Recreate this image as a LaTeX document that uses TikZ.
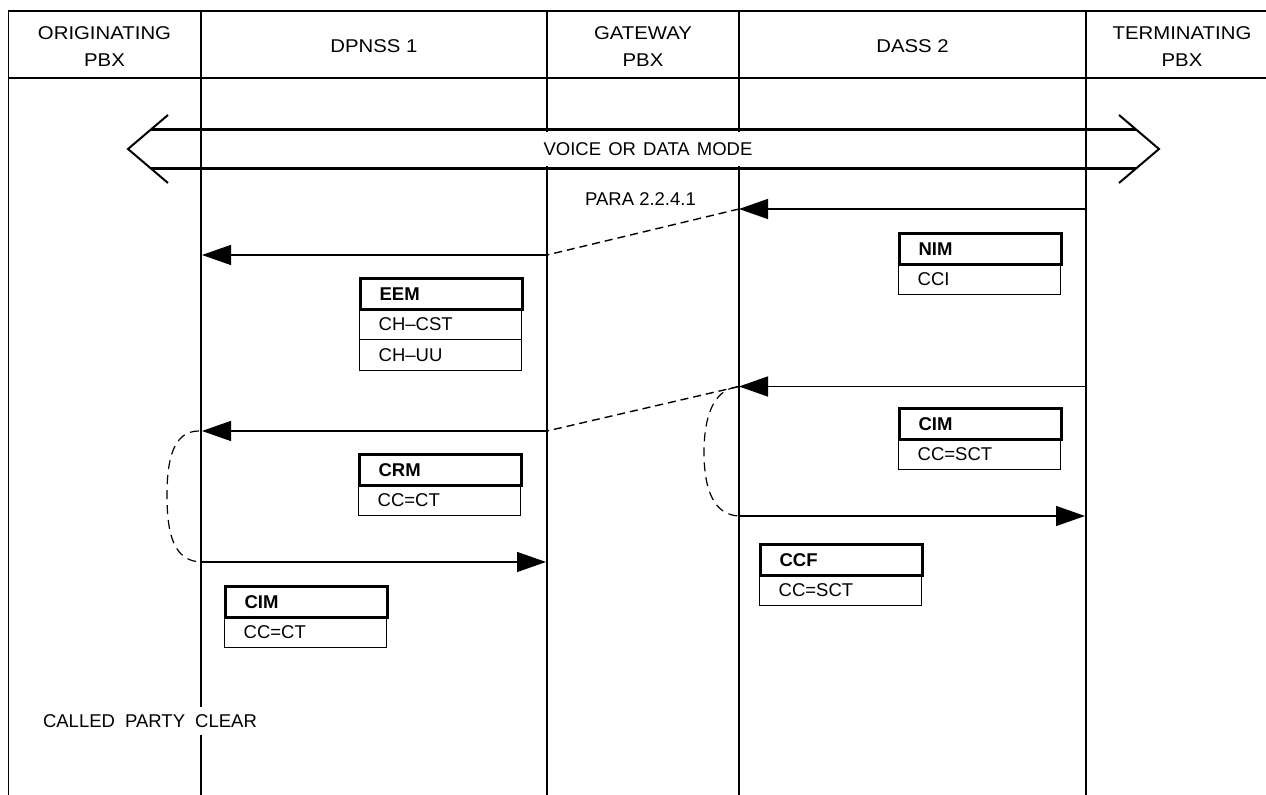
\documentclass[tikz,border=0pt]{standalone}
\usepackage{fontspec}
\setmainfont{Liberation Sans}
\usepackage{graphicx}
\usetikzlibrary{arrows.meta}
\begin{document}
\begin{tikzpicture}[x=0.5pt,y=-0.5pt,
  font=\fontsize{9.25}{13.85}\selectfont,
  frame/.style={line width=0.9pt},
  msg/.style={line width=0.7pt, -{Triangle[length=14.5pt,width=10pt]}},
  link/.style={line width=0.7pt, dash pattern=on 4pt off 2.5pt},
  loopline/.style={line width=0.6pt, dash pattern=on 4.5pt off 3pt},
  hdr/.style={align=center, inner sep=0pt},
  band/.style={line width=1.25pt},
  chev/.style={line width=1pt},
  rowbase/.style={anchor=north west, minimum width=81pt, minimum height=15.5pt,
    text width=62pt, inner xsep=9.5pt, inner ysep=0pt, align=left,
    text height=6.7pt, text depth=0pt},
  boxhead/.style={rowbase, draw, line width=1.6pt, font=\fontsize{9.25}{11}\selectfont\bfseries},
  boxrow/.style={rowbase, draw, line width=0.65pt},
  gaplabel/.style={fill=white, inner xsep=2pt, inner ysep=3.5pt}
]
\useasboundingbox (0,0) rectangle (1266,795);

% frame and lanes
\coordinate (tl) at (8.5,11);
\coordinate (tr) at (1266,11);
\coordinate (bl) at (8.5,795);
\coordinate (hl) at (8.5,78);
\coordinate (hr) at (1266,78);
\draw[frame] (bl) -- (tl) -- (tr);
\draw[frame] (hl) -- (hr);
\coordinate (l1t) at (201,11);  \coordinate (l1b) at (201,795);
\coordinate (l2t) at (547,11);  \coordinate (l2b) at (547,795);
\coordinate (l3t) at (739,11);  \coordinate (l3b) at (739,795);
\coordinate (l4t) at (1086,11); \coordinate (l4b) at (1086,795);
\draw[frame] (l1t) -- (l1b);
\draw[frame] (l2t) -- (l2b);
\draw[frame] (l3t) -- (l3b);
\draw[frame] (l4t) -- (l4b);

% headers
\node[hdr] (h1) at (104.5,46.5) {\scalebox{1.1}[1]{ORIGINATING}\\\scalebox{1.1}[1]{PBX}};
\node[hdr] (h2) at (374,46.5) {\scalebox{1.1}[1]{DPNSS 1}};
\node[hdr] (h3) at (643,46.5) {\scalebox{1.1}[1]{GATEWAY}\\\scalebox{1.1}[1]{PBX}};
\node[hdr] (h4) at (912.5,46.5) {\scalebox{1.1}[1]{DASS 2}};
\node[hdr] (h5) at (1182,46.5) {\scalebox{1.1}[1]{TERMINATING}\\\scalebox{1.1}[1]{PBX}};

% voice or data mode double arrow
\coordinate (vl) at (128,149);
\coordinate (vr) at (1159,149);
\coordinate (vlu) at (168,115); \coordinate (vld) at (168,183);
\coordinate (vru) at (1119,115); \coordinate (vrd) at (1119,183);
\draw[chev] (vlu) -- (vl) -- (vld);
\draw[chev] (vru) -- (vr) -- (vrd);
\coordinate (bu1) at (151.2,129.3); \coordinate (bu2) at (1135.8,129.3);
\coordinate (bd1) at (151.2,168.7); \coordinate (bd2) at (1135.8,168.7);
\draw[band] (bu1) -- (bu2);
\draw[band] (bd1) -- (bd2);
\node[fill=white, inner xsep=3pt, inner ysep=0pt, minimum height=17pt] (vd) at (648,149) {VOICE\hspace{1pt} OR\hspace{1pt} DATA\hspace{1pt} MODE};

% PARA label
\node (para) at (640.5,199) {PARA 2.2.4.1};

% messages
\coordinate (m1s) at (1086,209);  \coordinate (m1e) at (739,209);
\coordinate (m2s) at (547,255);   \coordinate (m2e) at (202,255);
\coordinate (m3s) at (1086,386.5);\coordinate (m3e) at (739,386.5);
\coordinate (m4s) at (547,431);   \coordinate (m4e) at (202,431);
\coordinate (m5s) at (201,562);   \coordinate (m5e) at (546,562);
\coordinate (m6s) at (739,516);   \coordinate (m6e) at (1085,516);

\draw[msg] (m1s) -- (m1e);
\draw[link] (m1e) -- (m2s);
\draw[msg] (m2s) -- (m2e);

\draw[msg] (m3s) -- (m3e);
\draw[link] (m3e) -- (m4s);
\draw[msg] (m4s) -- (m4e);

\coordinate (lp1) at (199,431);
\draw[loopline] (lp1) .. controls (173,431) and (167,460) .. (167,495)
  .. controls (167,535) and (174,561) .. (m5s);
\draw[msg] (m5s) -- (m5e);

\coordinate (rp1) at (737,387);
\draw[loopline] (rp1) .. controls (712,390) and (704,420) .. (704,452)
  .. controls (704,490) and (714,515) .. (m6s);
\draw[msg] (m6s) -- (m6e);

% message boxes: rows first, heads on top
\node[boxrow] (nim1) at (898,263) {CCI};
\node[boxhead] (nim) at (898,232) {NIM};

\node[boxrow] (eem1) at (359,308) {CH–CST};
\node[boxrow] (eem2) at (359,339) {CH–UU};
\node[boxhead] (eem) at (359,277) {EEM};

\node[boxrow] (cimr1) at (898,438) {CC=SCT};
\node[boxhead] (cimr) at (898,407) {CIM};

\node[boxrow] (crm1) at (358,484) {CC=CT};
\node[boxhead] (crm) at (358,453) {CRM};

\node[boxrow] (ccf1) at (759,574) {CC=SCT};
\node[boxhead] (ccf) at (759,543) {CCF};

\node[boxrow] (ciml1) at (224,616) {CC=CT};
\node[boxhead] (ciml) at (224,585) {CIM};

% bottom label
\node[gaplabel] (cpc) at (150,721) {CALLED\hspace{2.5pt} PARTY\hspace{2.5pt} CLEAR};
\end{tikzpicture}
\end{document}
